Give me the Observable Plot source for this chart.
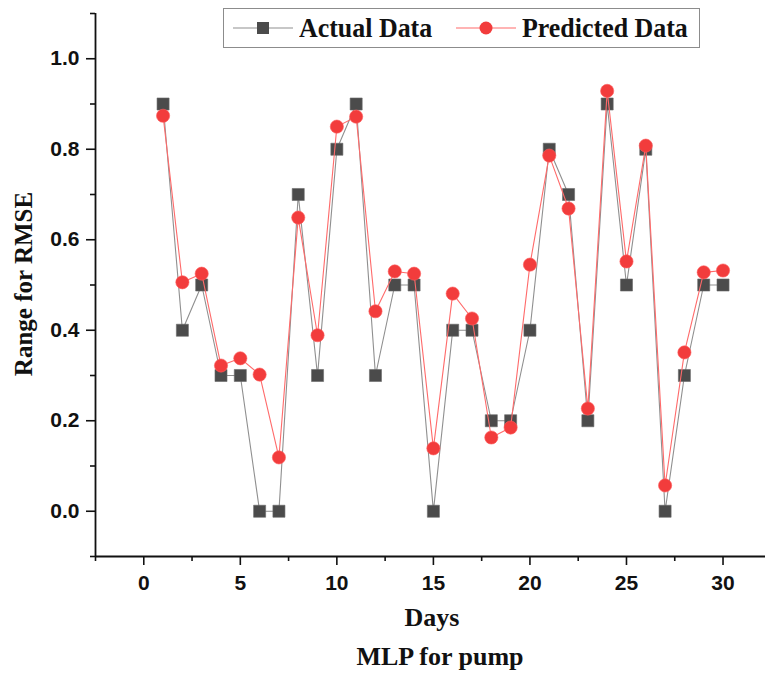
<!DOCTYPE html>
<html>
<head>
<meta charset="utf-8">
<script src="https://cdn.jsdelivr.net/npm/d3@7"></script>
<script src="https://cdn.jsdelivr.net/npm/@observablehq/plot@0.6"></script>
<style>
  html, body { margin: 0; padding: 0; background: #fff; }
  #wrap { position: relative; width: 765px; height: 675px; overflow: hidden; }
  .ttl { position: absolute; font-family: "Liberation Serif", serif; font-weight: bold; color: #111; white-space: nowrap; line-height: 1; }
  #legend { position: absolute; left: 223px; top: 8px; width: 477px; height: 40px; border: 1px solid #8c8c8c; box-sizing: border-box; background: #fff; }
  #legend .item { position: absolute; top: 0; height: 38px; display: flex; align-items: center; }
  #legend span { font-family: "Liberation Serif", serif; font-weight: bold; font-size: 27px; color: #111; margin-left: 6px; display: inline-block; transform: scaleX(0.96); transform-origin: left center; }
</style>
</head>
<body>
<div id="wrap"></div>
<script>
// Data
const days = [1,2,3,4,5,6,7,8,9,10,11,12,13,14,15,16,17,18,19,20,21,22,23,24,25,26,27,28,29,30];
const actual = [0.9,0.4,0.5,0.3,0.3,0.0,0.0,0.7,0.3,0.8,0.9,0.3,0.5,0.5,0.0,0.4,0.4,0.2,0.2,0.4,0.8,0.7,0.2,0.9,0.5,0.8,0.0,0.3,0.5,0.5];
const predicted = [0.874,0.506,0.525,0.322,0.338,0.302,0.119,0.649,0.389,0.850,0.872,0.442,0.530,0.525,0.139,0.481,0.426,0.163,0.185,0.545,0.786,0.669,0.227,0.929,0.552,0.808,0.057,0.351,0.528,0.532];

const xMajorTicks = [0,5,10,15,20,25,30];
const xMinorTicks = [-2.5,2.5,7.5,12.5,17.5,22.5,27.5,32.5];
const yMajorTicks = [0.0,0.2,0.4,0.6,0.8,1.0];
const yMinorTicks = [-0.1,0.1,0.3,0.5,0.7,0.9,1.1];
const xDomain = [-2.5, 32.2];
const yDomain = [-0.1, 1.1];

const seriesNames = ["Actual Data", "Predicted Data"];
const xTitle = "Days";
const yTitle = "Range for RMSE";
const caption = "MLP for pump";

const actualRows = days.map((d, i) => ({day: d, value: actual[i]}));
const predRows = days.map((d, i) => ({day: d, value: predicted[i]}));

const grayLine = "#8f8f8f", graySq = "#4b4b4b", redLine = "#ff6a6a", redDot = "#f23c3c";

const chart = Plot.plot({
  width: 765,
  height: 675,
  marginLeft: 95,
  marginRight: 0,
  marginTop: 13,
  marginBottom: 119,
  style: {fontFamily: "Liberation Sans, Arial, sans-serif", fontSize: "21px", fontWeight: "bold", color: "#111", background: "#fff"},
  x: {domain: xDomain},
  y: {domain: yDomain},
  marks: [
    Plot.axisX({ticks: xMinorTicks.filter(t => t <= xDomain[1]), tickSize: 5, tickFormat: () => "", label: null, strokeWidth: 1.6, stroke: "#111"}),
    Plot.axisX({ticks: xMajorTicks, tickSize: 9, tickPadding: 10, tickFormat: d => String(d), label: null, strokeWidth: 1.6, stroke: "#111", fill: "#111"}),
    Plot.axisY({ticks: yMinorTicks, tickSize: 5, tickFormat: () => "", label: null, strokeWidth: 1.6, stroke: "#111"}),
    Plot.axisY({ticks: yMajorTicks, tickSize: 9, tickPadding: 7, tickFormat: d3.format(".1f"), label: null, strokeWidth: 1.6, stroke: "#111", fill: "#111"}),
    Plot.ruleX([xDomain[0]], {stroke: "#111", strokeWidth: 1.8}),
    Plot.ruleY([yDomain[0]], {stroke: "#111", strokeWidth: 1.8}),
    Plot.line(actualRows, {x: "day", y: "value", stroke: grayLine, strokeWidth: 1.1}),
    Plot.dot(actualRows, {x: "day", y: "value", symbol: "square", r: 6.8, fill: graySq, stroke: "#6a6a6a", strokeWidth: 0.6}),
    Plot.line(predRows, {x: "day", y: "value", stroke: redLine, strokeWidth: 1.1}),
    Plot.dot(predRows, {x: "day", y: "value", symbol: "circle", r: 6.6, fill: redDot, stroke: "#ff5a5a", strokeWidth: 0.6})
  ]
});

const wrap = document.getElementById("wrap");
wrap.appendChild(chart);

function addTitle(text, cx, cy, size, rotate) {
  const d = document.createElement("div");
  d.className = "ttl";
  d.textContent = text;
  d.style.fontSize = size + "px";
  d.style.left = cx + "px";
  d.style.top = cy + "px";
  d.style.transform = "translate(-50%,-50%)" + (rotate ? " rotate(-90deg)" : "");
  wrap.appendChild(d);
}
addTitle(yTitle, 23, 284, 25, true);
addTitle(xTitle, 432, 618, 26, false);
addTitle(caption, 440, 657, 26, false);

// Legend
const legend = document.createElement("div");
legend.id = "legend";
const swatches = [
  {name: seriesNames[0], left: 9, line: grayLine, shape: "square", fill: graySq},
  {name: seriesNames[1], left: 232, line: redLine, shape: "circle", fill: redDot}
];
for (const s of swatches) {
  const item = document.createElement("div");
  item.className = "item";
  item.style.left = s.left + "px";
  const svg = d3.create("svg").attr("width", 60).attr("height", 20);
  svg.append("line").attr("x1", 0).attr("x2", 60).attr("y1", 10).attr("y2", 10).attr("stroke", s.line).attr("stroke-width", 1.1);
  if (s.shape === "square") {
    svg.append("rect").attr("x", 24).attr("y", 4).attr("width", 12).attr("height", 12).attr("fill", s.fill);
  } else {
    svg.append("circle").attr("cx", 30).attr("cy", 10).attr("r", 6.5).attr("fill", s.fill);
  }
  item.appendChild(svg.node());
  const t = document.createElement("span");
  t.textContent = s.name;
  item.appendChild(t);
  legend.appendChild(item);
}
wrap.appendChild(legend);
</script>
</body>
</html>
